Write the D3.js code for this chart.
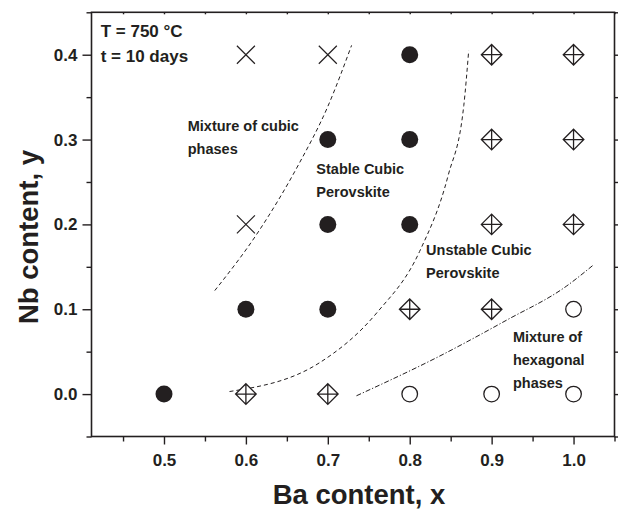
<!DOCTYPE html>
<html>
<head>
<meta charset="utf-8">
<script src="https://cdn.jsdelivr.net/npm/d3@7"></script>
<style>
  html, body { margin: 0; padding: 0; background: #fff; }
  svg { display: block; font-family: "Liberation Sans", Arial, Helvetica, sans-serif; }
</style>
</head>
<body>
<svg id="chart" width="618" height="510"></svg>
<script>
// ---- data ----
const xTicks = [0.5, 0.6, 0.7, 0.8, 0.9, 1.0];
const xMinorTicks = [0.45, 0.55, 0.65, 0.75, 0.85, 0.95, 1.05];
const yTicks = [0.0, 0.1, 0.2, 0.3, 0.4];
const yMinorTicks = [-0.05, 0.05, 0.15, 0.25, 0.35, 0.45];

const mixtureCubicPts = [[0.6, 0.4], [0.7, 0.4], [0.6, 0.2]];
const stableCubicPts = [[0.8, 0.4], [0.7, 0.3], [0.8, 0.3], [0.7, 0.2], [0.8, 0.2], [0.6, 0.1], [0.7, 0.1], [0.5, 0.0]];
const unstableCubicPts = [[0.9, 0.4], [1.0, 0.4], [0.9, 0.3], [1.0, 0.3], [0.9, 0.2], [1.0, 0.2], [0.8, 0.1], [0.9, 0.1], [0.6, 0.0], [0.7, 0.0]];
const hexagonalPts = [[1.0, 0.1], [0.8, 0.0], [0.9, 0.0], [1.0, 0.0]];

const boundary1 = [[0.562, 0.122], [0.615, 0.191], [0.664, 0.270], [0.700, 0.339], [0.729, 0.411]];
const boundary2 = [[0.580, 0.003], [0.690, 0.037], [0.760, 0.096], [0.812, 0.168], [0.847, 0.258], [0.866, 0.340], [0.872, 0.405]];
const boundary3 = [[0.735, -0.002], [0.837, 0.045], [0.918, 0.087], [0.991, 0.127], [1.024, 0.152]];

const conditionLines = ["T = 750 \u00B0C", "t = 10 days"];
const regionLabels = [
  { lines: ["Mixture of cubic", "phases"], x: 0.529, y: 0.310 },
  { lines: ["Stable Cubic", "Perovskite"], x: 0.686, y: 0.2597 },
  { lines: ["Unstable Cubic", "Perovskite"], x: 0.820, y: 0.1635 },
  { lines: ["Mixture of", "hexagonal", "phases"], x: 0.926, y: 0.0615 }
];
const xTitle = "Ba content, x";
const yTitle = "Nb content, y";

// ---- layout ----
const ink = "#231f20";
const svg = d3.select("#chart");
const x = d3.scaleLinear().domain([0.4115, 1.05]).range([91.5, 614.5]);
const y = d3.scaleLinear().domain([-0.05, 0.45]).range([436.5, 12.3]);
const [x0, x1] = x.range();
const [y0, y1] = y.range();

// frame
svg.append("rect")
  .attr("x", x0).attr("y", y1).attr("width", x1 - x0).attr("height", y0 - y1)
  .attr("fill", "none").attr("stroke", ink).attr("stroke-width", 1.6);

const fmt = d3.format(".1f");
function styleAxis(g) {
  g.select(".domain").remove();
  g.selectAll(".tick line").attr("stroke", ink).attr("stroke-width", 1.4);
  g.selectAll(".tick text").attr("fill", ink).attr("font-size", "17px").attr("font-weight", "bold")
    .attr("font-family", "'Liberation Sans', Arial, sans-serif");
}
// bottom
svg.append("g").attr("transform", `translate(0,${y0})`)
  .call(d3.axisBottom(x).tickValues(xTicks).tickFormat(fmt).tickSize(8).tickPadding(9)).call(styleAxis);
svg.append("g").attr("transform", `translate(0,${y0})`)
  .call(d3.axisBottom(x).tickValues(xMinorTicks).tickFormat("").tickSize(5)).call(styleAxis);
// left
svg.append("g").attr("transform", `translate(${x0},0)`)
  .call(d3.axisLeft(y).tickValues(yTicks).tickFormat(fmt).tickSize(9).tickPadding(5)).call(styleAxis);
svg.append("g").attr("transform", `translate(${x0},0)`)
  .call(d3.axisLeft(y).tickValues(yMinorTicks).tickFormat("").tickSize(5)).call(styleAxis);
// top (tiny inward ticks)
svg.append("g").attr("transform", `translate(0,${y1})`)
  .call(d3.axisBottom(x).tickValues(xTicks.concat(xMinorTicks)).tickFormat("").tickSize(2)).call(styleAxis);
// right (outward ticks)
svg.append("g").attr("transform", `translate(${x1},0)`)
  .call(d3.axisRight(y).tickValues(yTicks).tickFormat("").tickSize(8)).call(styleAxis);
svg.append("g").attr("transform", `translate(${x1},0)`)
  .call(d3.axisRight(y).tickValues(yMinorTicks).tickFormat("").tickSize(5)).call(styleAxis);

// axis titles
svg.append("text").attr("x", 359).attr("y", 503.5).attr("text-anchor", "middle")
  .attr("font-size", "27.5px").attr("font-weight", "bold").attr("fill", ink).text(xTitle);
svg.append("text").attr("transform", "translate(38.3,237) rotate(-90)").attr("text-anchor", "middle")
  .attr("font-size", "27.5px").attr("font-weight", "bold").attr("fill", ink).text(yTitle);

// boundary curves
const line = d3.line().x(d => x(d[0])).y(d => y(d[1])).curve(d3.curveMonotoneX);
svg.append("path").attr("d", line(boundary1)).attr("fill", "none").attr("stroke", ink)
  .attr("stroke-width", 1).attr("stroke-dasharray", "4,3");
svg.append("path").attr("d", line(boundary2)).attr("fill", "none").attr("stroke", ink)
  .attr("stroke-width", 1).attr("stroke-dasharray", "4,3");
svg.append("path").attr("d", line(boundary3)).attr("fill", "none").attr("stroke", ink)
  .attr("stroke-width", 1).attr("stroke-dasharray", "5,2,1.2,2");

// markers
const mk = svg.append("g");
mk.selectAll(".xm").data(mixtureCubicPts).enter().append("path")
  .attr("d", d => { const cx = x(d[0]), cy = y(d[1]), s = 9;
    return `M${cx - s},${cy - s}L${cx + s},${cy + s}M${cx - s},${cy + s}L${cx + s},${cy - s}`; })
  .attr("stroke", ink).attr("stroke-width", 1.2).attr("fill", "none");
mk.selectAll(".fc").data(stableCubicPts).enter().append("circle")
  .attr("cx", d => x(d[0])).attr("cy", d => y(d[1])).attr("r", 8.5).attr("fill", ink);
mk.selectAll(".dm").data(unstableCubicPts).enter().append("path")
  .attr("d", d => { const cx = x(d[0]), cy = y(d[1]), s = 10.3;
    return `M${cx},${cy - s}L${cx + s},${cy}L${cx},${cy + s}L${cx - s},${cy}Z` +
           `M${cx},${cy - s}L${cx},${cy + s}M${cx - s},${cy}L${cx + s},${cy}`; })
  .attr("stroke", ink).attr("stroke-width", 1.3).attr("fill", "#fff");
mk.selectAll(".oc").data(hexagonalPts).enter().append("circle")
  .attr("cx", d => x(d[0])).attr("cy", d => y(d[1])).attr("r", 7.8)
  .attr("fill", "#fff").attr("stroke", ink).attr("stroke-width", 1.3);

// condition text
const cond = svg.append("text").attr("font-size", "17px").attr("font-weight", "bold").attr("fill", ink);
conditionLines.forEach((t, i) => {
  cond.append("tspan").attr("x", x(0.4227)).attr("y", y(0.421) + i * 25.5).text(t);
});

// region labels
regionLabels.forEach(lab => {
  const t = svg.append("text").attr("font-size", "14.5px").attr("font-weight", "bold").attr("fill", ink);
  lab.lines.forEach((s, i) => {
    t.append("tspan").attr("x", x(lab.x)).attr("y", y(lab.y) + i * 23).text(s);
  });
});
</script>
</body>
</html>
